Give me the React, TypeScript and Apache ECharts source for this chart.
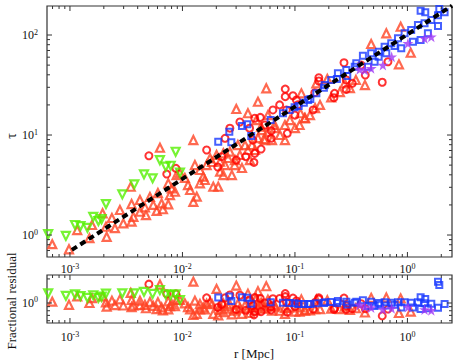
import React, { useEffect, useRef } from 'react';
import * as echarts from 'echarts';

// ---- axis ranges ----
const X_MIN = 6.25e-4;
const X_MAX = 2.49;
const TOP_Y_MIN = 0.603;
const TOP_Y_MAX = 195;
const RES_Y_MIN = 0.562;
const RES_Y_MAX = 2.24;

const MAJOR_X = [1e-3, 1e-2, 1e-1, 1];
const MAJOR_Y_TOP = [1, 10, 100];
const MAJOR_Y_RES = [1];

// ---- red-orange triangles ----
const TRI_R = [6.96e-4, 9.8e-4, 1.16e-3, 1.49e-3, 1.95e-3, 2.09e-3, 2.12e-3, 2.98e-3, 3.53e-3, 3.53e-3,
  3.66e-3, 4.19e-3, 4.64e-3, 4.74e-3, 5.5e-3, 5.9e-3, 6.53e-3, 6.31e-3, 3.47e-3, 6.7e-3,
  7.48e-3, 7.74e-3, 8.02e-3, 7.48e-3, 8.58e-3, 8.87e-3, 9.5e-3, 1.25e-2, 1.17e-2, 1.25e-2,
  1.34e-2, 1.43e-2, 1.53e-2, 1.64e-2, 1.76e-2, 2.01e-2, 2.16e-2, 2.31e-2, 2.08e-2, 1.88e-2,
  2.16e-2, 2.31e-2, 2.64e-2, 5.14e-3, 6.05e-3, 4.19e-3, 2.51e-3, 1.43e-2, 1.58e-2, 1.83e-2,
  2.39e-2, 2.54e-2, 2.93e-2, 3.11e-2, 2.75e-2, 3.24e-2, 3.6e-2, 3.82e-2, 4.15e-2, 4.69e-2,
  5.09e-2, 5.41e-2, 5.75e-2, 6.64e-2, 7.36e-2, 8.15e-2, 5.3e-2, 2.91e-2, 0.11, 9.03e-2,
  0.1, 0.123, 0.136, 0.151, 0.167, 0.21, 0.194, 0.155, 0.114, 0.277,
  0.251, 0.308, 0.348, 0.419, 0.476, 0.649, 0.871, 0.84, 1.07, 3.01e-2,
  4.69e-2, 5.56e-2, 3.82e-2, 4.53e-2, 5.75e-2, 6.6e-2, 5.01e-2, 0.112, 0.122, 1.05e-2,
  1.29e-2, 3.38e-2, 3.98e-2, 4.41e-2, 6.25e-2, 8.15e-2, 1.12e-2, 2.78e-3, 1.57e-3, 2.36e-3];
const TRI_TAU = [0.81, 0.72, 1.12, 0.93, 1.65, 1.21, 0.96, 1.31, 1.36, 2.04,
  1.52, 1.71, 1.89, 1.58, 2.0, 1.74, 2.07, 7.46, 3.04, 1.81,
  2.03, 2.51, 2.93, 3.29, 2.71, 3.98, 4.17, 8.91, 2.82, 2.15,
  2.42, 3.29, 3.83, 5.01, 5.85, 6.31, 4.3, 3.98, 3.04, 3.04,
  5.41, 6.56, 6.81, 2.4, 2.63, 2.24, 1.17, 4.47, 3.55, 5.37,
  5.01, 5.89, 5.62, 7.94, 3.98, 6.31, 7.94, 7.08, 7.94, 9.33,
  11.2, 8.91, 10.7, 11.7, 10.0, 12.6, 9.12, 5.01, 12.6, 14.1,
  11.7, 14.8, 15.8, 18.6, 20.0, 23.8, 36.3, 32.9, 26.1, 32.9,
  26.9, 29.5, 35.5, 31.6, 81.3, 104, 121, 50.9, 66.5, 18.2,
  21.5, 29.3, 16.5, 14.1, 15.8, 12.6, 12.1, 16.5, 14.7, 3.72,
  5.01, 4.68, 5.62, 7.08, 8.91, 8.91, 3.16, 1.78, 1.26, 1.48];
const TRI_RES = [1.04, 0.95, 1.21, 1.0, 1.21, 1.02, 0.9, 0.93, 0.89, 1.09,
  0.93, 0.94, 0.95, 0.86, 0.92, 0.84, 0.88, 1.7, 1.34, 0.81,
  0.83, 0.91, 0.97, 1.05, 0.91, 1.09, 1.09, 1.85, 0.83, 0.71,
  0.73, 0.83, 0.88, 0.98, 1.03, 1.5, 0.82, 0.77, 0.7, 0.73,
  0.92, 0.99, 0.96, 1.03, 1.02, 1.07, 0.94, 0.97, 0.83, 0.97,
  0.85, 0.91, 0.84, 0.98, 0.72, 0.86, 0.93, 0.86, 0.88, 0.91,
  0.97, 0.85, 0.91, 0.9, 0.8, 0.87, 0.86, 0.8, 0.78, 0.88,
  0.78, 0.81, 0.81, 0.84, 0.84, 0.85, 1.08, 1.11, 1.11, 0.9,
  0.84, 0.82, 0.86, 0.76, 1.16, 1.17, 1.14, 0.75, 0.78, 1.65,
  1.4, 1.62, 1.31, 1.14, 1.1, 0.94, 1.01, 0.88, 0.81, 0.99,
  1.07, 0.73, 0.75, 0.81, 0.8, 0.73, 0.89, 1.11, 1.15, 1.07];

// ---- red open circles ----
const CIRC_R = [5.03e-3, 7.25e-3, 8.75e-3, 1.64e-2, 2.06e-2, 2.23e-2, 2.39e-2, 3.95e-2, 4.23e-2, 4.39e-2,
  4.32e-2, 5.0e-2, 6.15e-2, 6.15e-2, 8.55e-2, 3.65e-2, 3.01e-2, 8.2e-2, 8.2e-2, 9.6e-2,
  0.103, 0.163, 0.163, 0.15, 0.225, 0.222, 0.286, 0.286, 0.323, 0.273,
  0.422, 0.597, 0.145, 6.37e-2, 7.31e-2, 4.92e-2, 4.39e-2, 0.106, 8.4e-2, 0.388,
  0.671, 3.24e-2, 5.4e-2, 0.1, 2.64e-2];
const CIRC_TAU = [6.2, 4.07, 4.64, 7.08, 4.79, 6.07, 9.27, 11.7, 8.9, 6.56,
  5.33, 7.24, 11.0, 9.27, 10.4, 6.07, 5.62, 28.8, 24.2, 24.7,
  22.4, 37.4, 34.7, 26.5, 26.1, 23.6, 35.5, 28.6, 32.9, 52.8,
  39.8, 33.7, 17.8, 17.8, 20.0, 15.0, 14.7, 20.0, 17.8, 50.0,
  54.0, 13.5, 12.6, 15.8, 11.7];
const CIRC_RES = [1.72, 1.3, 1.3, 1.16, 0.88, 0.96, 1.16, 1.09, 0.93, 0.78,
  0.71, 0.78, 0.9, 0.82, 0.77, 0.81, 0.83, 1.31, 1.2, 1.15,
  1.06, 1.16, 1.12, 1.01, 0.86, 0.83, 0.92, 0.83, 0.85, 1.15,
  0.85, 0.69, 0.84, 1.13, 1.14, 1.14, 1.17, 0.99, 1.02, 0.98,
  0.84, 1.25, 1.0, 0.9, 1.26];

// ---- green down-triangles ----
const GREEN_R = [6.4e-4, 9.2e-4, 1.11e-3, 1.24e-3, 1.43e-3, 1.61e-3, 1.79e-3, 1.91e-3, 2.09e-3,
  2.92e-3, 3.73e-3, 4.55e-3, 5.43e-3, 6.3e-3, 7.1e-3, 7.86e-3, 8.7e-3, 9.5e-3];
const GREEN_TAU = [1.02, 0.98, 1.26, 1.23, 1.18, 1.52, 1.38, 1.44, 2.04,
  2.55, 3.21, 4.05, 3.69, 5.6, 4.82, 4.93, 6.8, 4.2];
const GREEN_RES = [1.32, 1.23, 1.28, 1.22, 1.16, 1.25, 1.16, 1.2, 1.31,
  1.32, 1.32, 1.38, 1.3, 1.45, 1.28, 1.26, 1.28, 1.09];

// ---- blue open squares ----
const SQ_R = [2.08e-2, 2.61e-2, 2.72e-2, 4.09e-2, 3.38e-2, 3.77e-2, 6.08e-2, 7.82e-2, 9.93e-2, 0.12,
  0.137, 0.181, 0.236, 0.292, 0.351, 0.402, 0.476, 0.558, 0.627, 0.718,
  0.824, 0.944, 1.08, 1.24, 1.42, 1.63, 1.87, 2.14, 1.31, 1.44,
  1.87, 1.12, 1.31, 1.52, 0.881, 0.769, 0.649, 0.555, 0.511, 0.446,
  0.34, 0.286, 0.241, 0.21, 0.184, 0.155, 0.131, 0.108, 0.0897, 1.92];
const SQ_TAU = [8.57, 10.8, 8.45, 9.77, 12.3, 12.8, 14.1, 16.5, 18.9, 21.0,
  22.9, 29.7, 36.3, 38.9, 52.1, 62.1, 65.6, 68.1, 76.4, 82.6,
  92.7, 104, 112, 126, 131, 141, 158, 169, 175, 169,
  123, 85.7, 89.1, 104, 73.6, 77.6, 65.6, 60.7, 54.1, 48.2,
  48.2, 44.7, 41.4, 35.5, 31.6, 26.1, 22.4, 19.5, 17.8, 182];
const SQ_RES = [1.17, 1.21, 1.06, 0.98, 1.18, 1.16, 1.02, 1.01, 0.99, 0.97,
  0.97, 1.0, 1.0, 0.96, 1.04, 1.08, 1.04, 1.0, 1.02, 1.01,
  1.02, 1.02, 1.01, 1.02, 0.99, 0.98, 1.85, 0.97, 1.18, 1.12,
  0.87, 0.88, 0.84, 0.86, 0.88, 0.95, 0.93, 0.95, 0.92, 0.92,
  1.01, 1.04, 1.06, 1.03, 1.02, 0.99, 0.97, 0.97, 1.0, 1.68];

// ---- purple stars ----
const STAR_R = [1.63, 1.42, 1.01, 0.605, 0.476, 0.417, 0.376, 0.724];
const STAR_TAU = [96.2, 92.7, 82.6, 50.1, 46.4, 44.7, 45.4, 60.7];
const STAR_RES = [0.81, 0.83, 0.89, 0.83, 0.88, 0.9, 0.95, 0.86];

// ---- dashed model line ----
const LINE_R = [1.04e-3, 2.49];
const LINE_TAU = [0.71, 196];

const SERIF = '"Liberation Serif", "DejaVu Serif", serif';
const AXIS_COLOR = '#333';
const STAR_PATH = 'path://M50,0 L61,35 L98,35 L68,57 L79,91 L50,70 L21,91 L32,57 L2,35 L39,35 Z';

function zip(a: number[], b: number[]) {
  return a.map((v, i) => [v, b[i]]);
}

function minorValues(lo: number, hi: number) {
  const out: number[] = [];
  for (let d = -5; d <= 3; d++) {
    for (let k = 2; k <= 9; k++) {
      const v = k * Math.pow(10, d);
      if (v > lo * 1.0001 && v < hi * 0.9999) out.push(v);
    }
  }
  return out;
}

function fmt(v: number) {
  const e = Math.log10(v);
  const r = Math.round(e);
  if (Math.abs(e - r) > 1e-6) return '';
  return `{b|10}{s|${r}}`;
}

const RICH = {
  b: { fontSize: 12, fontFamily: SERIF, color: '#111', lineHeight: 14 },
  s: { fontSize: 8, fontFamily: SERIF, color: '#111', verticalAlign: 'top', lineHeight: 9 },
};

function tickSeries(axisIdx: number, values: number[], dir: 'x' | 'y', len: number,
  xMin: number, xMax: number, yMin: number, yMax: number) {
  return {
    type: 'custom',
    xAxisIndex: axisIdx,
    yAxisIndex: axisIdx,
    silent: true,
    clip: false,
    z: 20,
    data: values.map((v) => (dir === 'x' ? [v, yMin] : [xMin, v])),
    renderItem: (_p: any, api: any) => {
      const style = { stroke: AXIS_COLOR, lineWidth: 1 };
      if (dir === 'x') {
        const v = api.value(0);
        const pb = api.coord([v, yMin]);
        const pt = api.coord([v, yMax]);
        return {
          type: 'group',
          children: [
            { type: 'line', shape: { x1: pb[0], y1: pb[1], x2: pb[0], y2: pb[1] - len }, style },
            { type: 'line', shape: { x1: pt[0], y1: pt[1], x2: pt[0], y2: pt[1] + len }, style },
          ],
        };
      }
      const v = api.value(1);
      const pl = api.coord([xMin, v]);
      const pr = api.coord([xMax, v]);
      return {
        type: 'group',
        children: [
          { type: 'line', shape: { x1: pl[0], y1: pl[1], x2: pl[0] + len, y2: pl[1] }, style },
          { type: 'line', shape: { x1: pr[0], y1: pr[1], x2: pr[0] - len, y2: pr[1] }, style },
        ],
      };
    },
  };
}

function pointSeries(idx: number, r: number[], y: number[], kind: string) {
  const base: any = { type: 'scatter', xAxisIndex: idx, yAxisIndex: idx, data: zip(r, y), silent: true };
  if (kind === 'tri') {
    return { ...base, symbol: 'triangle', symbolSize: 8, z: 2,
      itemStyle: { color: 'rgba(255,255,255,0)', borderColor: '#ff4424', borderWidth: 2.2 } };
  }
  if (kind === 'circ') {
    return { ...base, symbol: 'circle', symbolSize: 7, z: 3,
      itemStyle: { color: 'rgba(255,255,255,0)', borderColor: '#ff0000', borderWidth: 2 } };
  }
  if (kind === 'green') {
    return { ...base, symbol: 'triangle', symbolRotate: 180, symbolSize: 8, z: 3,
      itemStyle: { color: 'rgba(255,255,255,0)', borderColor: '#55f000', borderWidth: 2.2 } };
  }
  if (kind === 'sq') {
    return { ...base, symbol: 'rect', symbolSize: 6, z: 4,
      itemStyle: { color: 'rgba(255,255,255,0)', borderColor: '#1838ff', borderWidth: 2 } };
  }
  return { ...base, symbol: STAR_PATH, symbolSize: 11, z: 4,
    itemStyle: { color: '#a038f5' } };
}

export default function App() {
  const ref = useRef<HTMLDivElement>(null);
  useEffect(() => {
    if (!ref.current) return;
    const chart = echarts.init(ref.current, null, { renderer: 'svg' });
    const gridCommon = { left: 47, right: 6, show: true, borderColor: AXIS_COLOR, borderWidth: 1.2, backgroundColor: 'transparent' };
    const xAxisCommon = {
      type: 'log', logBase: 10, min: X_MIN, max: X_MAX,
      axisLine: { show: false }, axisTick: { show: false }, splitLine: { show: false },
    };
    const yAxisCommon = {
      type: 'log', logBase: 10,
      axisLine: { show: false }, axisTick: { show: false }, splitLine: { show: false },
    };
    const option: any = {
      animation: false,
      grid: [
        { ...gridCommon, top: 6, height: 251 },
        { ...gridCommon, top: 275, height: 48 },
      ],
      xAxis: [
        { ...xAxisCommon, gridIndex: 0, axisLabel: { formatter: fmt, rich: RICH, margin: 5, hideOverlap: false } },
        { ...xAxisCommon, gridIndex: 1, axisLabel: { formatter: fmt, rich: RICH, margin: 7, hideOverlap: false } },
      ],
      yAxis: [
        { ...yAxisCommon, gridIndex: 0, min: TOP_Y_MIN, max: TOP_Y_MAX, axisLabel: { formatter: fmt, rich: RICH, margin: 9 } },
        { ...yAxisCommon, gridIndex: 1, min: RES_Y_MIN, max: RES_Y_MAX, axisLabel: { formatter: fmt, rich: RICH, margin: 9 } },
      ],
      series: [
        pointSeries(0, TRI_R, TRI_TAU, 'tri'),
        pointSeries(0, CIRC_R, CIRC_TAU, 'circ'),
        pointSeries(0, GREEN_R, GREEN_TAU, 'green'),
        pointSeries(0, SQ_R, SQ_TAU, 'sq'),
        pointSeries(0, STAR_R, STAR_TAU, 'star'),
        {
          type: 'line', xAxisIndex: 0, yAxisIndex: 0, data: zip(LINE_R, LINE_TAU), symbol: 'none', silent: true, z: 10,
          lineStyle: { color: '#000', width: 4, type: [6, 4] },
        },
        pointSeries(1, TRI_R, TRI_RES, 'tri'),
        pointSeries(1, CIRC_R, CIRC_RES, 'circ'),
        pointSeries(1, GREEN_R, GREEN_RES, 'green'),
        pointSeries(1, SQ_R, SQ_RES, 'sq'),
        pointSeries(1, STAR_R, STAR_RES, 'star'),
        tickSeries(0, MAJOR_X, 'x', 5, X_MIN, X_MAX, TOP_Y_MIN, TOP_Y_MAX),
        tickSeries(0, minorValues(X_MIN, X_MAX), 'x', 3, X_MIN, X_MAX, TOP_Y_MIN, TOP_Y_MAX),
        tickSeries(0, MAJOR_Y_TOP, 'y', 5, X_MIN, X_MAX, TOP_Y_MIN, TOP_Y_MAX),
        tickSeries(0, minorValues(TOP_Y_MIN, TOP_Y_MAX), 'y', 3, X_MIN, X_MAX, TOP_Y_MIN, TOP_Y_MAX),
        tickSeries(1, MAJOR_X, 'x', 5, X_MIN, X_MAX, RES_Y_MIN, RES_Y_MAX),
        tickSeries(1, minorValues(X_MIN, X_MAX), 'x', 3, X_MIN, X_MAX, RES_Y_MIN, RES_Y_MAX),
        tickSeries(1, MAJOR_Y_RES, 'y', 5, X_MIN, X_MAX, RES_Y_MIN, RES_Y_MAX),
        tickSeries(1, minorValues(RES_Y_MIN, RES_Y_MAX), 'y', 3, X_MIN, X_MAX, RES_Y_MIN, RES_Y_MAX),
      ],
      graphic: [
        { type: 'text', x: 11, y: 136, rotation: Math.PI / 2,
          style: { text: 'τ', font: `14px ${SERIF}`, fill: '#111', align: 'center', verticalAlign: 'middle' } },
        { type: 'text', x: 11, y: 301, rotation: Math.PI / 2,
          style: { text: 'Fractional residual', font: `13px ${SERIF}`, fill: '#111', align: 'center', verticalAlign: 'middle' } },
        { type: 'text', x: 254, y: 353,
          style: { text: 'r [Mpc]', font: `13px ${SERIF}`, fill: '#111', align: 'center', verticalAlign: 'middle' } },
      ],
    };
    chart.setOption(option);
    return () => chart.dispose();
  }, []);
  return <div ref={ref} style={{ position: 'absolute', left: 0, top: 0, width: 458, height: 360 }} />;
}
